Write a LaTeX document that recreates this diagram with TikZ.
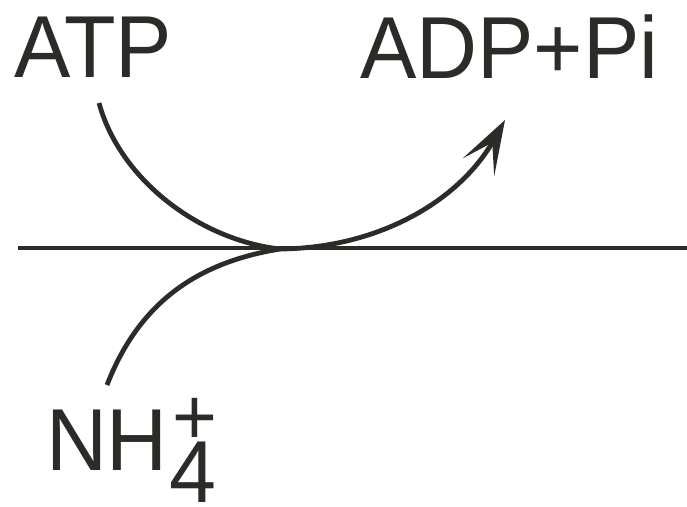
\documentclass[tikz,border=0pt]{standalone}
\usepackage{fontspec}
\setmainfont{Liberation Sans}
\usetikzlibrary{arrows.meta}
\definecolor{ink}{HTML}{2B2B28}
\tikzset{
  lbl/.style={inner sep=0pt, outer sep=0pt, anchor=base west, text=ink,
    font=\fontsize{88}{88}\selectfont, xscale=0.96},
  flow/.style={draw=ink, line width=4.8pt},
  tip/.style={-{Stealth[length=54pt,width=36pt,inset=28pt]}}
}
\begin{document}
\begin{tikzpicture}[x=1pt,y=-1pt]
\useasboundingbox (0,0) rectangle (687,506);
% labels
\node[lbl] (atp) at (14,77) {ATP};
\node[lbl] (adp) at (360,78) {ADP+Pi};
\node[lbl] (nh) at (46,470) {NH\hspace{2pt}\rlap{\hspace{3pt}\raisebox{26pt}{\fontsize{80}{80}\selectfont +}}\raisebox{-32pt}{4}};
% anchor points
\coordinate (L) at (18,248);
\coordinate (R) at (687,248);
\coordinate (M) at (280,249);
\coordinate (atpend) at (99,103);
\coordinate (nhend) at (107,385);
\coordinate (adptip) at (505,120);
% main line
\draw[flow] (L) -- (R);
% ATP in
\draw[flow] (atpend) .. controls (120,180) and (200,240) .. (M);
% NH4+ in
\draw[flow] (nhend) .. controls (140,300) and (200,262) .. (M);
% ADP + Pi out
\draw[flow,tip] (M) .. controls (380,248) and (460,200) .. (adptip);
\end{tikzpicture}
\end{document}
